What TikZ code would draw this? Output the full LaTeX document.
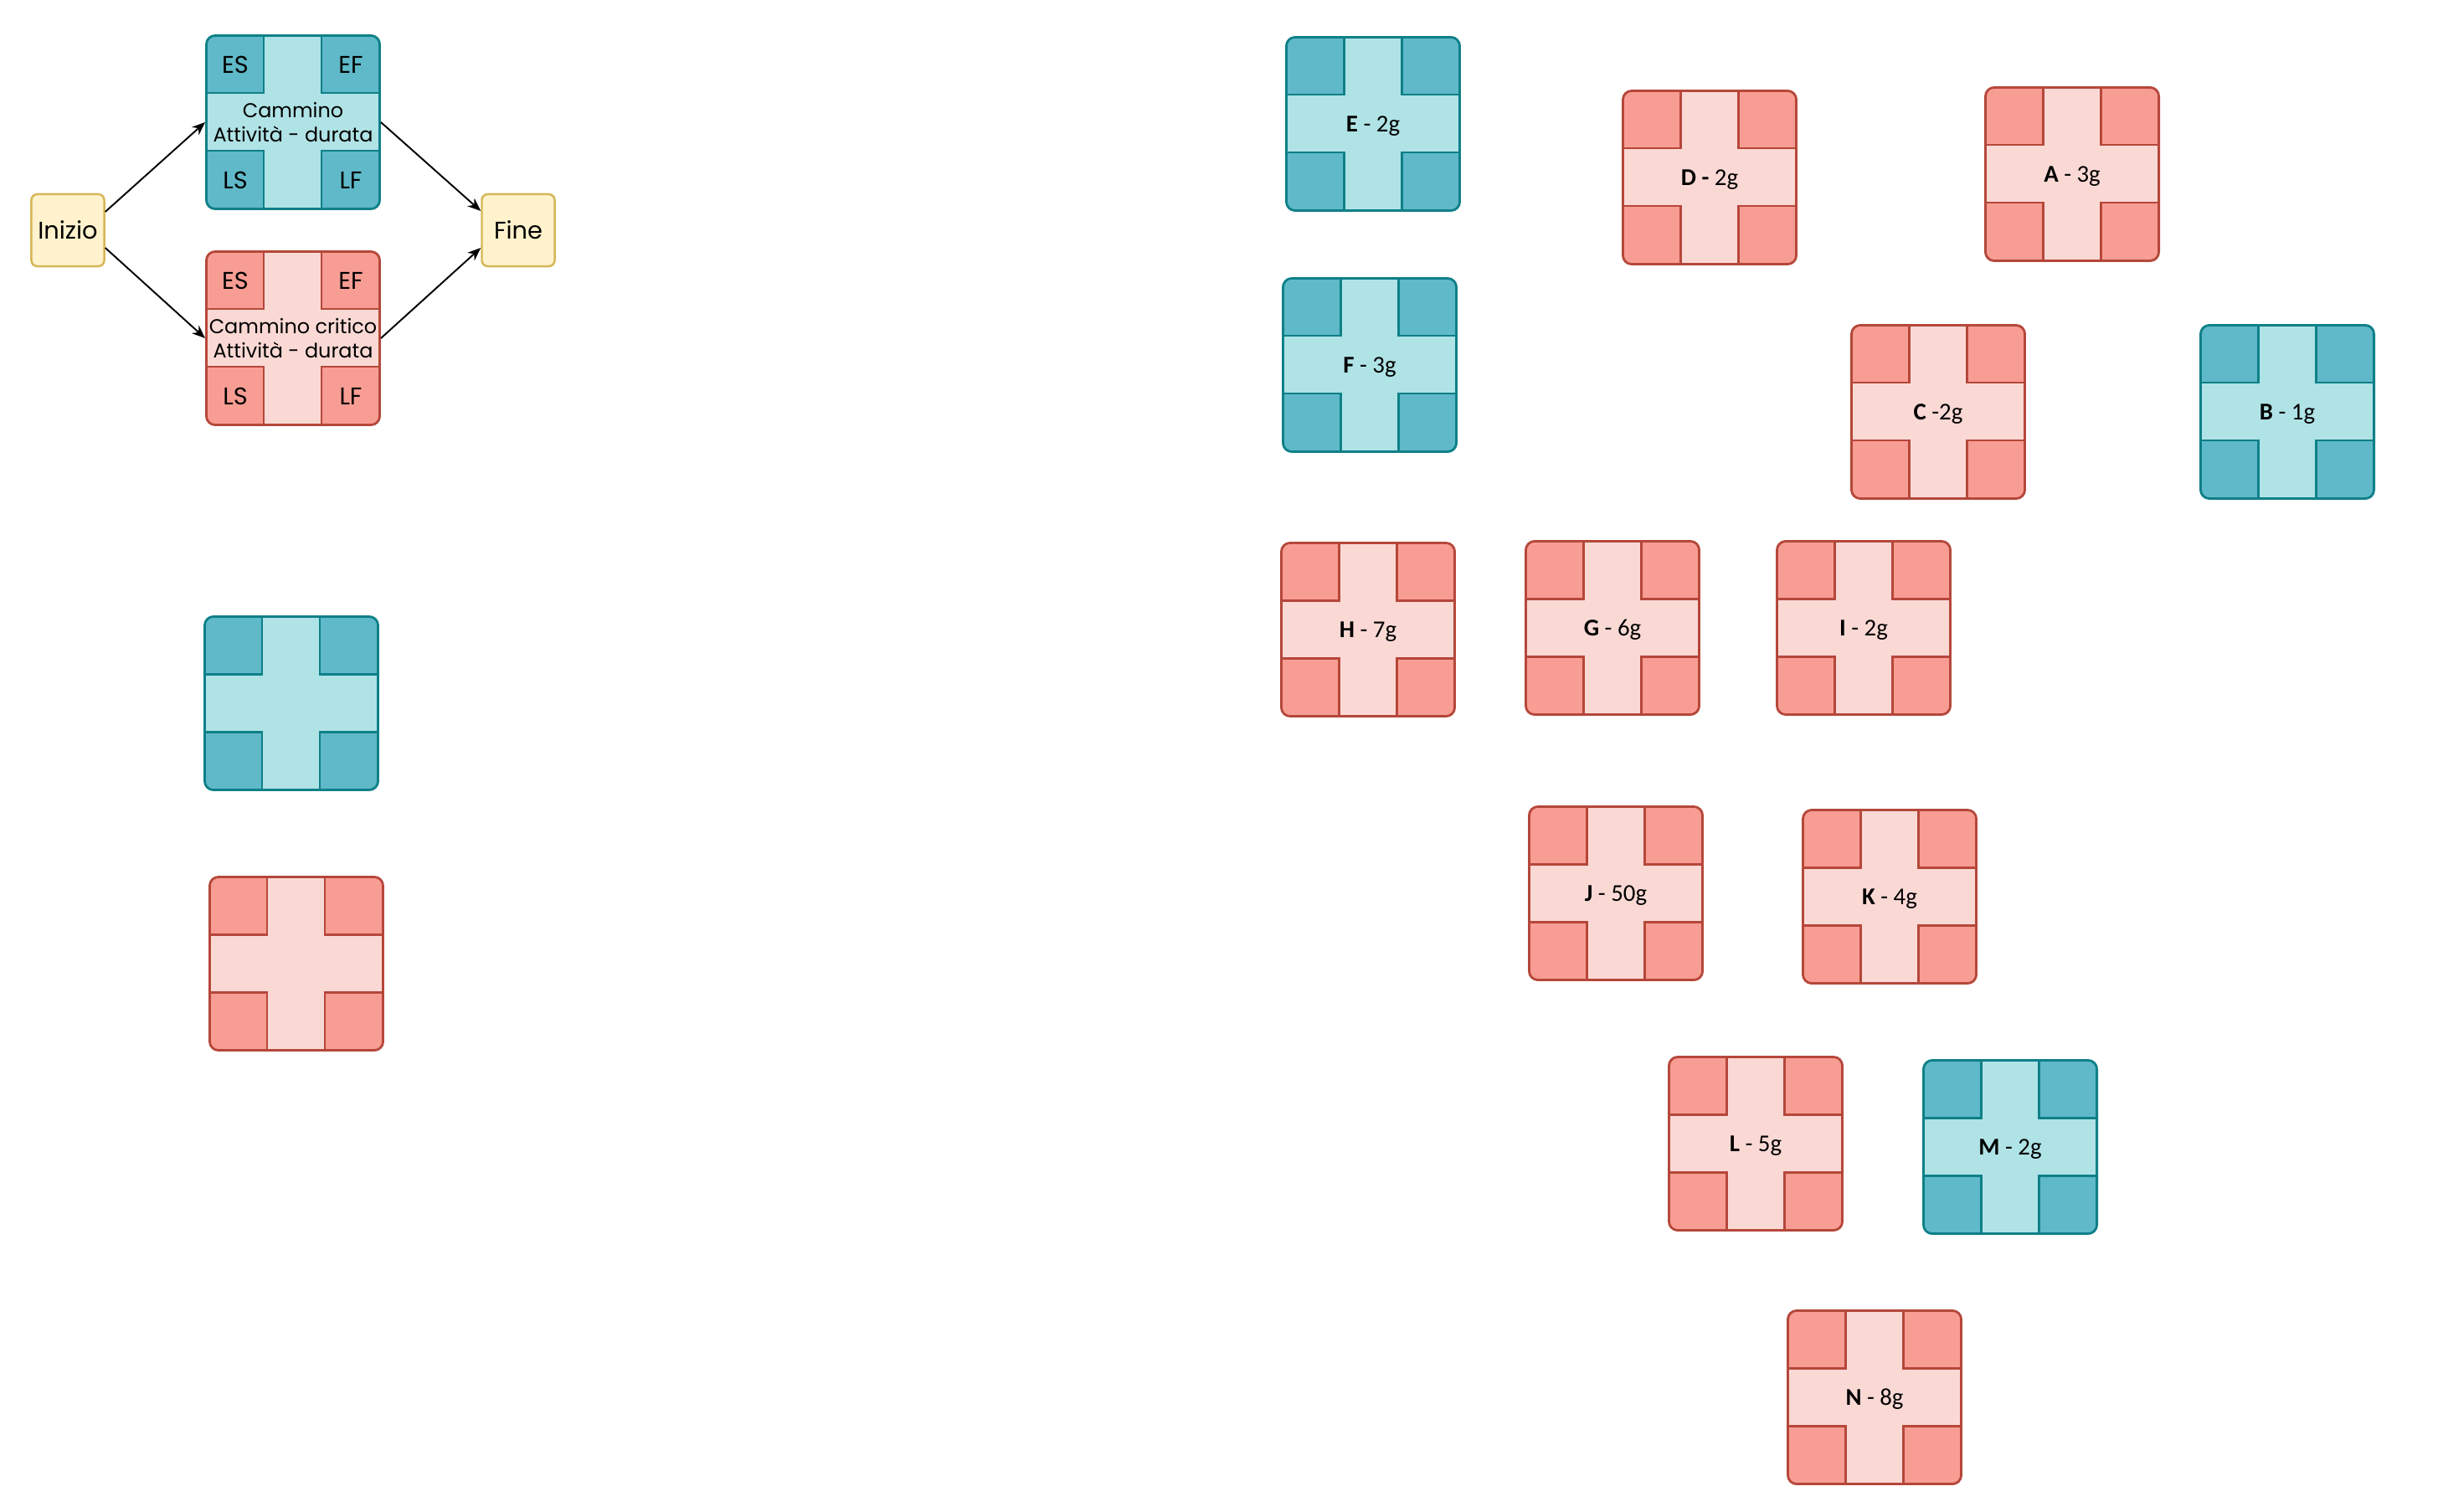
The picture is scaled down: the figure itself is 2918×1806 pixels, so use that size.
\documentclass[tikz,border=0pt]{standalone}
\usepackage{fontspec}
\setmainfont{Carlito}
\newfontfamily\legfont{Poppins}
\usetikzlibrary{arrows.meta}

\definecolor{bluLight}{HTML}{B0E3E6}
\definecolor{bluDark}{HTML}{5FB9C8}
\definecolor{bluLine}{HTML}{0E8088}
\definecolor{rosLight}{HTML}{FAD9D5}
\definecolor{rosDark}{HTML}{F89D93}
\definecolor{rosLine}{HTML}{B5473A}
\definecolor{giallo}{HTML}{FFF2CC}
\definecolor{gialloLine}{HTML}{D6B656}

\tikzset{
  act/.style n args={3}{draw=#3, fill=#1, line width=0.8pt, rounded corners=3pt,
    minimum width=2.07cm, minimum height=2.07cm, inner sep=0pt, align=center,
    font=\fontsize{8.2}{10}\selectfont,
    path picture={
      \foreach \cx/\cy in {0/0,138/0,0/138,138/138}
        \filldraw[fill=#2, draw=#3, line width=0.6pt, sharp corners]
          ([shift={(\cx,\cy)}]path picture bounding box.north west) rectangle +(69,69);
    }},
  blu/.style={act={bluLight}{bluDark}{bluLine}},
  rosso/.style={act={rosLight}{rosDark}{rosLine}},
  att/.style={text height=5.6pt, text depth=0pt},
  leg/.style={font=\legfont\fontsize{6.8}{8.5}\selectfont, align=center},
  angolo/.style={font=\legfont\fontsize{8.2}{10}\selectfont},
  estremo/.style={angolo, draw=gialloLine, fill=giallo, line width=0.7pt, rounded corners=2pt,
    minimum width=0.87cm, minimum height=0.86cm, inner sep=0pt},
  freccia/.style={-{Stealth[length=4.5pt,width=3.6pt]}, line width=0.55pt},
}

\begin{document}
\begin{tikzpicture}[x=0.01cm, y=-0.01cm]
  \useasboundingbox (0,0) rectangle (2918,1806);

  \node[estremo] (inizio) at (81,275) {Inizio};
  \node[estremo] (fine) at (619,275) {Fine};
  \node[blu, leg] (cam) at (350,146) {Cammino\\Attività - durata};
  \node[rosso, leg] (crit) at (350,404) {Cammino critico\\Attività - durata};
  \foreach \lab/\dx/\dy in {ES/-69/-69, EF/69/-69, LS/-69/69, LF/69/69} {
    \node[angolo] (cam\lab) at ([shift={(\dx,\dy)}]cam.center) {\lab};
    \node[angolo] (crit\lab) at ([shift={(\dx,\dy)}]crit.center) {\lab};
  }

  \draw[freccia] ([yshift=0.22cm]inizio.east) -- (cam.west);
  \draw[freccia] ([yshift=-0.21cm]inizio.east) -- (crit.west);
  \draw[freccia] (cam.east) -- ([yshift=0.23cm]fine.west);
  \draw[freccia] (crit.east) -- ([yshift=-0.21cm]fine.west);

  \node[blu] (vuotoBlu) at (348,840) {};
  \node[rosso] (vuotoRosso) at (354,1151) {};

  \node[blu, att] (actE) at (1640,148) {\textbf{E} - 2g};
  \node[rosso, att] (actD) at (2042,212) {\textbf{D -} 2g};
  \node[rosso, att] (actA) at (2475,208) {\textbf{A} - 3g};
  \node[blu, att] (actF) at (1636,436) {\textbf{F} - 3g};
  \node[rosso, att] (actC) at (2315,492) {\textbf{C} -2g};
  \node[blu, att] (actB) at (2732,492) {\textbf{B} - 1g};
  \node[rosso, att] (actH) at (1634,752) {\textbf{H} - 7g};
  \node[rosso, att] (actG) at (1926,750) {\textbf{G} - 6g};
  \node[rosso, att] (actI) at (2226,750) {\textbf{I} - 2g};
  \node[rosso, att] (actJ) at (1930,1067) {\textbf{J} - 50g};
  \node[rosso, att] (actK) at (2257,1071) {\textbf{K} - 4g};
  \node[rosso, att] (actL) at (2097,1366) {\textbf{L} - 5g};
  \node[blu, att] (actM) at (2401,1370) {\textbf{M} - 2g};
  \node[rosso, att] (actN) at (2239,1669) {\textbf{N} - 8g};
\end{tikzpicture}
\end{document}
